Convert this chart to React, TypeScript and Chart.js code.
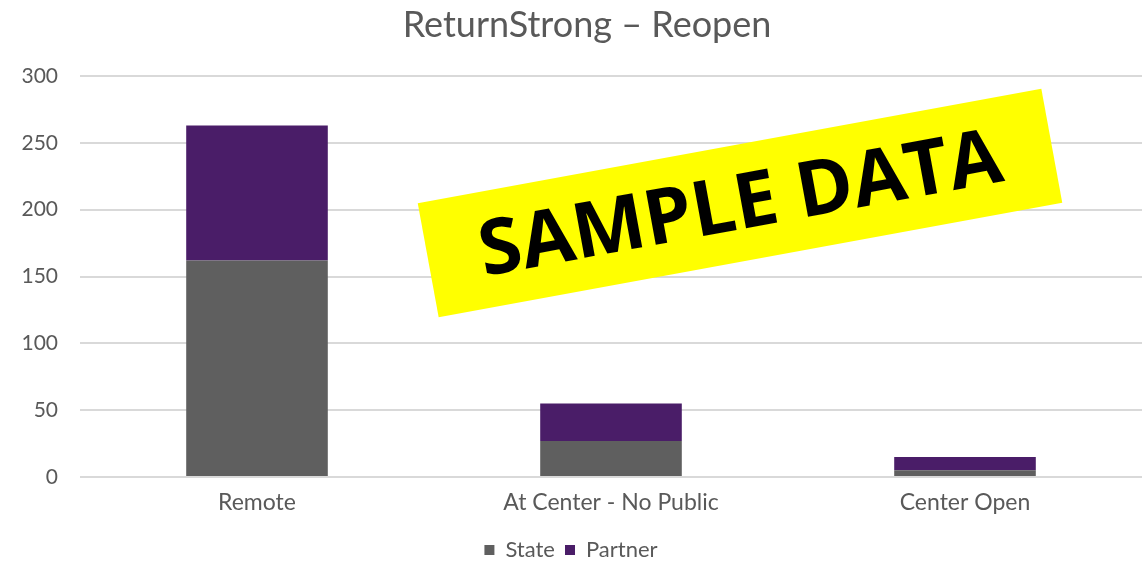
import React, { useEffect, useRef } from "react";
import { Chart, registerables } from "chart.js";

Chart.register(...registerables);

const categories = ["Remote", "At Center - No Public", "Center Open"];
const stateValues = [162, 27, 5];
const partnerValues = [101, 28, 10];
const yTicks = [0, 50, 100, 150, 200, 250, 300];
const titleText = "ReturnStrong – Reopen";
const bannerText = "SAMPLE DATA";

const FONT = "Lato, 'Open Sans', sans-serif";
const TEXT = "#595959";

const titlePlugin = {
  id: "customTitle",
  afterDraw(chart: any) {
    const ctx = chart.ctx;
    ctx.save();
    ctx.font = `normal 36px ${FONT}`;
    ctx.fillStyle = TEXT;
    ctx.textAlign = "center";
    ctx.textBaseline = "middle";
    ctx.fillText(titleText, 587, 25);
    ctx.restore();
  },
};

const bannerPlugin = {
  id: "sampleBanner",
  afterDraw(chart: any) {
    const ctx = chart.ctx;
    ctx.save();
    ctx.translate(740, 203);
    ctx.rotate((-10.4 * Math.PI) / 180);
    ctx.fillStyle = "#ffff00";
    ctx.fillRect(-317, -58, 634, 116);
    let size = 80;
    ctx.font = `bold ${size}px 'Open Sans', sans-serif`;
    const w = ctx.measureText(bannerText).width;
    size = (size * 530) / w;
    ctx.font = `bold ${size}px 'Open Sans', sans-serif`;
    ctx.fillStyle = "#000000";
    ctx.textAlign = "center";
    ctx.textBaseline = "middle";
    ctx.fillText(bannerText, 0, 4);
    ctx.restore();
  },
};

export default function App() {
  const ref = useRef<HTMLCanvasElement>(null);
  useEffect(() => {
    document.body.style.margin = "0";
    const chart = new Chart(ref.current!, {
      type: "bar",
      data: {
        labels: categories,
        datasets: [
          { label: "State", data: stateValues, backgroundColor: "#5f5f5f" },
          { label: "Partner", data: partnerValues, backgroundColor: "#4a1d68" },
        ],
      },
      plugins: [titlePlugin, bannerPlugin],
      options: {
        animation: false,
        responsive: false,
        layout: { padding: { left: 0, right: 3, top: 76, bottom: -9 } },
        datasets: { bar: { categoryPercentage: 1, barPercentage: 0.4 } },
        plugins: {
          title: { display: false },
          legend: {
            position: "bottom",
            labels: {
              color: TEXT,
              font: { family: FONT, size: 22 },
              boxWidth: 10,
              boxHeight: 10,
              padding: 10,
            },
          },
          tooltip: { enabled: false },
        },
        scales: {
          x: {
            stacked: true,
            grid: { display: false, drawTicks: false },
            border: { display: false },
            ticks: { color: TEXT, font: { family: FONT, size: 23 }, padding: 12 },
            afterFit(scale: any) {
              scale.height = 52;
            },
          },
          y: {
            stacked: true,
            min: 0,
            max: 300,
            afterBuildTicks(scale: any) {
              scale.ticks = yTicks.map((v) => ({ value: v }));
            },
            grid: { color: "#d9d9d9", lineWidth: 2, drawTicks: false },
            border: { display: false },
            ticks: { color: TEXT, font: { family: FONT, size: 21 }, padding: 22 },
            afterFit(scale: any) {
              scale.width = 80;
            },
          },
        },
      },
    });
    return () => chart.destroy();
  }, []);
  return <canvas ref={ref} width={1145} height={562} style={{ display: "block" }} />;
}
